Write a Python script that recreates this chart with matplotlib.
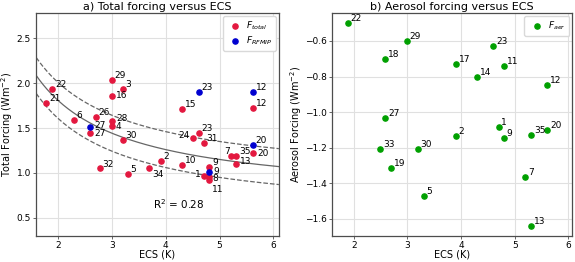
import numpy as np
import matplotlib
matplotlib.use('Agg')
import matplotlib.pyplot as plt

plt.rcParams['font.family'] = 'DejaVu Sans'
plt.rcParams['font.size'] = 7

## Datos
# a) forzamiento total
ecs_total = [1.9, 1.79, 3.0, 3.2, 3.0, 2.3, 2.7, 3.0, 3.0, 2.6, 4.31, 5.62, 4.51, 4.61,
             4.71, 5.62, 5.22, 5.31, 5.31, 3.2, 3.91, 4.31, 4.81, 4.81, 4.81, 4.71,
             2.78, 3.3, 3.7]
f_total = [1.93, 1.78, 2.04, 1.94, 1.86, 1.59, 1.62, 1.58, 1.52, 1.44, 1.71, 1.72, 1.39, 1.44,
           1.33, 1.22, 1.19, 1.19, 1.10, 1.37, 1.13, 1.09, 1.07, 0.95, 0.92, 0.97,
           1.05, 0.99, 1.05]
lab_total = ['22', '21', '29', '3', '16', '6', '26', '28', '4', '27', '15', '12', '24', '23',
             '31', '20', '7', '35', '13', '30', '2', '10', '9', '8', '11', '1',
             '32', '5', '34']

ecs_rfmip = [2.6, 4.61, 5.62, 5.62, 4.81]
f_rfmip = [1.51, 1.90, 1.90, 1.31, 1.01]
lab_rfmip = ['27', '23', '12', '20', '9']

# ajuste F = a/ECS + b, banda +-0.2
fit_a, fit_b, fit_band = 2.2, 0.71, 0.2
r2_text = 'R$^2$ = 0.28'

# b) forzamiento de aerosoles
ecs_aer = [1.89, 2.99, 2.59, 3.9, 4.6, 4.8, 4.3, 5.61, 2.59, 4.7, 3.9, 4.8, 5.31, 5.61,
           2.49, 3.19, 2.69, 3.3, 5.2, 5.31]
f_aer = [-0.50, -0.60, -0.70, -0.73, -0.63, -0.74, -0.80, -0.85, -1.035, -1.085, -1.135,
         -1.145, -1.13, -1.10, -1.21, -1.21, -1.315, -1.475, -1.365, -1.64]
lab_aer = ['22', '29', '18', '17', '23', '11', '14', '12', '27', '1', '2', '9', '35', '20',
           '33', '30', '19', '5', '7', '13']

c_total = '#e3183f'
c_rfmip = '#0000d0'
c_aer = '#00a000'

# desplazamientos especiales de etiquetas (puntos, ha, va)
off_def = ((2, 3.2), 'left', 'center')
off_total = {'27': ((3, 0), 'left', 'center'), '4': ((3, 0), 'left', 'center'),
             '16': ((3, 0), 'left', 'center'), '20': ((3, 0), 'left', 'center'),
             '24': ((-2.5, 2), 'right', 'center'), '7': ((-1, 3), 'right', 'center'),
             '13': ((2.5, 2), 'left', 'center'), '8': ((2.5, -1), 'left', 'center'),
             '11': ((2, -3.5), 'left', 'top'), '1': ((-2, 1), 'right', 'center'),
             '34': ((2, -1), 'left', 'top'), '28': ((3, 2), 'left', 'center')}
off_rfmip = {'27': ((3, 1.5), 'left', 'center'), '9': ((3, 0.5), 'left', 'center')}


def etiquetar(ax, xs, ys, labs, special):
    for x, y, s in zip(xs, ys, labs):
        off, ha, va = special.get(s, off_def)
        ax.annotate(s, (x, y), xytext=off, textcoords='offset points',
                    ha=ha, va=va, fontsize=6.5)


def estilo(ax):
    ax.grid(True, color='0.88', linewidth=0.8)
    ax.set_axisbelow(True)
    for sp in ax.spines.values():
        sp.set_color('0.3')
        sp.set_linewidth(0.9)
    ax.tick_params(labelsize=6.5, length=2.5, width=0.6, pad=1.2, color='0.3')


fig = plt.figure(figsize=(5.75, 2.62), dpi=100)
ax1 = fig.add_axes([0.063, 0.1, 0.422, 0.85])
ax2 = fig.add_axes([0.578, 0.1, 0.417, 0.85])

## Panel a
xx = np.linspace(1.6, 6.1, 200)
yfit = fit_a / xx + fit_b
ax1.plot(xx, yfit, color='0.4', lw=0.9)
ax1.plot(xx, yfit + fit_band, color='0.4', lw=0.9, ls='--')
ax1.plot(xx, yfit - fit_band, color='0.4', lw=0.9, ls='--')

ax1.scatter(ecs_total, f_total, s=14, color=c_total, label='$F_{total}$', zorder=3)
ax1.scatter(ecs_rfmip, f_rfmip, s=14, color=c_rfmip, label='$F_{RFMIP}$', zorder=3)
etiquetar(ax1, ecs_total, f_total, lab_total, off_total)
etiquetar(ax1, ecs_rfmip, f_rfmip, lab_rfmip, off_rfmip)
ax1.text(4.25, 0.65, r2_text, ha='center', va='center', fontsize=7.5)

ax1.set_xlim(1.6, 6.1)
ax1.set_ylim(0.3, 2.78)
ax1.set_xticks([2, 3, 4, 5, 6])
ax1.set_yticks([0.5, 1.0, 1.5, 2.0, 2.5])
ax1.set_xlabel('ECS (K)', fontsize=7, labelpad=0)
ax1.set_ylabel('Total Forcing (Wm$^{-2}$)', fontsize=7, labelpad=1)
ax1.set_title('a) Total forcing versus ECS', fontsize=8, pad=2)
ax1.legend(loc='upper right', fontsize=6.5, handletextpad=0.2, borderpad=0.4,
           labelspacing=0.3, borderaxespad=0.3, framealpha=1, edgecolor='0.85')
estilo(ax1)

## Panel b
ax2.scatter(ecs_aer, f_aer, s=14, color=c_aer, label='$F_{aer}$', zorder=3)
etiquetar(ax2, ecs_aer, f_aer, lab_aer, {})
ax2.set_xlim(1.6, 6.07)
ax2.set_xticks([2, 3, 4, 5, 6])
ax2.set_yticks([-1.6, -1.4, -1.2, -1.0, -0.8, -0.6])
ax2.set_xlabel('ECS (K)', fontsize=7, labelpad=0)
ax2.set_ylabel('Aerosol Forcing (Wm$^{-2}$)', fontsize=7, labelpad=1)
ax2.set_title('b) Aerosol forcing versus ECS', fontsize=8, pad=2)
ax2.legend(loc='upper right', fontsize=6.5, handletextpad=0.2, borderpad=0.4,
           labelspacing=0.3, borderaxespad=0.3, framealpha=1, edgecolor='0.85')
estilo(ax2)

plt.savefig('out.png', dpi=100)
